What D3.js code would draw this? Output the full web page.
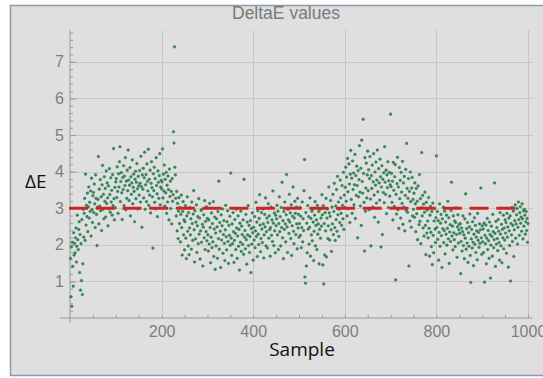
<!DOCTYPE html>
<html>
<head>
<meta charset="utf-8">
<script src="https://cdn.jsdelivr.net/npm/d3@7/dist/d3.min.js"></script>
<style>
  html, body { margin: 0; padding: 0; background: #ffffff; }
  svg { display: block; }
</style>
</head>
<body>
<svg id="chart" width="543" height="378"></svg>
<script>
// DeltaE per sample (samples 1..1000, fifty per row)
const deltaE = [
  1.63,0.58,1.94,0.32,2.07,1.41,0.87,2.33,1.72,2.04, 1.78,2.19,2.46,1.53,1.96,2.81,2.14,1.87,2.42,2.63, 1.24,2.28,0.76,2.03,1.02,2.69,0.64,1.48,2.97,2.21, 2.86,3.27,2.12,3.93,2.54,3.08,2.77,3.41,2.36,3.04, 3.58,2.73,3.16,2.91,3.47,2.24,3.82,2.96,2.61,3.34,
  3.43,2.88,3.66,3.12,2.47,3.91,3.27,2.83,1.98,3.03, 3.24,4.41,2.57,3.52,3.06,3.78,2.93,3.31,2.39,3.64, 4.17,2.97,3.38,2.71,3.86,3.19,3.54,2.76,4.02,3.13, 3.69,3.28,2.52,3.61,2.98,4.08,3.37,2.89,3.83,3.17, 3.49,2.81,3.92,3.07,4.63,3.26,2.68,3.57,3.01,3.72,
  3.81,3.29,4.13,3.46,2.86,3.94,3.58,4.27,4.68,3.18, 3.73,3.97,3.42,2.69,3.84,3.51,4.16,3.07,3.88,3.62, 4.38,2.96,3.74,3.27,4.04,3.48,4.59,3.77,3.21,3.63, 4.11,2.79,3.86,3.38,3.69,4.32,3.12,3.57,3.93,3.46, 2.63,3.79,4.01,3.26,3.71,4.22,3.53,2.98,3.87,3.61,
  3.36,4.03,3.68,3.17,4.42,3.59,2.48,3.91,3.52,4.09, 3.28,3.83,4.53,2.97,3.64,3.92,3.18,4.21,3.73,3.47, 4.61,3.08,3.79,3.36,4.04,2.87,3.68,4.27,3.56,3.31, 1.91,3.94,3.48,4.12,3.16,3.81,2.98,4.38,3.62,3.39, 2.77,4.02,3.71,3.27,3.89,4.49,3.09,3.58,3.76,3.53,
  3.72,4.62,3.28,3.93,3.47,4.18,3.06,3.79,3.42,3.98, 2.86,3.63,3.17,3.88,3.51,2.68,4.07,3.32,3.74,2.99, 3.46,2.57,3.81,3.19,3.37,5.09,4.78,7.41,4.12,3.91, 3.27,2.79,3.46,2.38,3.13,2.17,2.92,3.29,2.58,3.02, 2.08,2.83,3.36,2.47,1.72,2.91,3.18,2.27,2.68,1.86,
  2.63,3.07,2.18,1.62,2.79,3.31,2.37,1.97,2.88,1.73, 2.46,3.02,2.27,2.71,1.88,3.17,2.58,2.12,2.84,3.48, 2.41,1.53,2.93,2.16,2.62,3.09,1.79,2.52,2.77,2.03, 3.26,2.29,2.73,1.61,2.38,2.94,2.07,2.97,2.56,1.42, 2.48,2.82,2.19,3.21,1.87,2.64,2.36,3.04,2.11,2.72,
  2.27,1.83,2.68,2.02,3.13,2.47,1.51,2.21,2.87,1.92, 2.58,2.08,3.18,1.68,2.43,2.76,1.33,2.32,1.97,2.71, 2.49,1.63,2.91,2.17,3.74,1.88,2.61,2.37,1.38,2.82, 2.13,2.52,2.98,1.77,2.28,2.66,2.04,1.57,2.41,3.08, 2.22,1.86,2.63,2.93,2.09,1.49,2.53,2.26,2.78,1.99,
  3.96,2.18,1.71,2.57,2.03,2.88,2.36,1.52,2.12,2.69, 2.31,1.87,2.97,2.46,1.63,2.24,2.79,1.96,2.42,1.31, 2.59,2.07,2.92,1.82,2.51,2.28,2.01,2.68,1.74,3.79, 2.21,2.39,1.89,2.83,2.14,1.47,2.62,2.27,3.07,1.98, 2.53,1.79,2.23,2.66,1.24,2.44,2.02,2.87,2.33,1.58,
  2.48,2.13,2.77,1.92,2.38,3.16,2.23,2.62,1.68,2.93, 2.29,2.01,2.72,3.37,2.54,1.81,2.17,2.88,2.43,2.06, 2.98,2.57,1.64,2.27,2.83,2.49,3.28,1.97,2.36,2.73, 1.91,2.61,3.12,2.18,2.79,2.42,1.69,2.47,3.03,2.26, 2.68,2.09,3.47,2.59,1.98,2.87,2.38,1.78,2.81,2.52,
  2.71,3.08,2.27,2.92,1.87,2.58,3.31,2.36,2.77,1.97, 3.02,2.47,3.71,2.19,2.66,1.62,2.91,2.42,3.17,2.57, 2.08,2.82,3.92,2.49,1.79,2.97,2.68,2.31,3.38,2.62, 2.87,2.17,3.09,1.71,2.52,2.78,3.58,2.37,2.03,2.73, 3.19,2.86,2.28,3.03,2.57,1.89,3.27,2.46,2.83,2.21,
  2.58,3.02,2.26,2.78,1.92,2.47,3.17,2.08,2.71,2.39, 3.48,4.33,1.12,0.95,2.88,1.42,2.59,1.78,3.07,2.43, 2.77,2.02,2.48,3.28,1.69,2.72,2.27,2.92,2.11,2.98, 2.62,1.57,2.37,2.81,3.18,1.97,2.53,2.68,1.87,3.08, 2.29,2.57,2.91,1.48,2.42,2.97,2.18,2.73,2.51,3.37,
  2.82,1.45,3.07,0.93,2.58,1.72,2.88,2.38,3.27,1.67, 2.73,2.98,2.17,2.52,3.58,2.87,2.13,2.78,3.21,2.41, 1.82,3.03,2.57,3.38,2.28,2.91,3.68,2.47,2.12,3.06, 2.69,3.51,2.37,3.87,2.82,3.17,2.23,2.97,2.61,3.77, 3.28,2.86,2.53,3.62,3.08,2.71,3.98,2.42,3.36,3.02,
  3.57,4.12,3.19,3.85,2.79,4.36,3.45,2.99,4.21,3.66, 2.61,3.93,4.58,3.24,3.82,2.86,4.29,3.51,3.96,3.09, 3.64,4.47,2.72,3.89,3.35,4.15,3.62,2.19,4.03,3.31, 3.78,4.71,3.44,3.06,4.09,2.53,4.86,3.73,3.41,5.43, 3.95,3.16,1.83,4.38,2.92,3.55,4.23,3.28,3.91,4.56,
  3.48,4.05,2.96,3.81,4.41,3.25,1.97,3.89,3.54,4.18, 3.03,3.72,4.49,3.36,2.75,3.99,3.63,4.26,3.14,3.77, 4.59,3.45,2.62,4.08,3.69,3.22,4.34,3.86,1.94,3.58, 4.16,2.28,3.79,3.43,3.97,3.15,4.68,3.71,3.38,4.04, 2.85,3.91,3.56,4.27,3.02,3.75,3.98,3.33,3.64,5.57,
  3.59,3.95,3.16,3.74,2.68,4.25,3.49,3.05,3.86,4.19, 1.04,3.38,2.84,3.67,4.39,2.96,3.58,2.45,4.11,3.26, 3.76,2.73,3.98,3.44,3.13,4.28,2.56,3.69,3.03,3.87, 2.38,3.35,4.06,2.94,4.77,3.54,2.89,3.27,3.81,1.42, 3.46,2.65,3.99,3.18,2.48,3.55,3.84,2.79,3.24,2.97,
  3.41,2.75,3.69,3.12,2.36,3.54,2.85,3.19,2.14,3.61, 2.99,2.55,3.92,2.64,3.26,2.03,3.01,4.52,2.79,3.35, 2.46,3.11,2.24,2.89,3.44,2.53,1.73,3.16,2.32,2.95, 2.65,2.19,3.29,2.45,1.69,2.81,3.05,2.34,1.95,2.91, 1.46,3.14,2.26,1.78,2.65,2.99,2.43,2.06,2.74,4.43,
  2.47,2.91,2.15,2.66,1.58,2.34,3.12,1.96,2.59,2.83, 2.25,1.38,2.71,2.44,3.03,2.06,2.39,2.92,1.75,2.62, 2.29,2.81,1.99,2.45,3.19,2.16,2.74,1.49,2.35,2.55, 2.09,2.94,3.71,2.24,2.51,1.86,2.79,2.33,2.14,2.65, 1.95,2.61,3.01,2.28,1.66,2.49,2.82,2.05,2.41,2.56,
  2.31,2.58,1.21,2.09,2.46,1.83,2.36,2.79,1.98,2.27, 1.62,2.71,2.18,3.39,1.88,2.44,2.05,2.61,1.52,2.33, 1.96,2.49,2.84,1.71,0.97,2.16,2.42,1.91,2.63,2.07, 1.43,2.29,2.74,2.01,2.53,1.79,2.21,2.38,1.59,2.86, 2.12,2.34,1.93,2.57,2.04,2.41,3.55,2.19,1.74,2.52,
  2.08,2.43,1.79,2.59,0.98,2.26,2.03,2.54,1.48,2.18, 2.72,1.87,2.39,2.11,1.63,2.62,2.28,1.09,1.99,2.51, 2.23,1.69,2.83,2.36,1.92,2.14,3.69,2.31,1.41,2.64, 2.02,2.47,2.17,1.84,2.69,2.37,2.06,1.58,2.88,2.29, 1.97,2.56,1.51,2.42,2.19,2.81,1.89,2.46,2.13,2.68,
  2.32,2.61,1.77,2.86,2.21,2.49,1.39,2.73,2.38,1.98, 2.79,1.01,2.58,2.27,3.02,2.09,2.53,2.92,1.68,2.41, 2.66,3.09,2.18,2.57,2.82,2.99,2.02,2.48,3.17,2.69, 2.26,2.88,3.04,2.59,2.76,2.37,3.12,2.71,2.16,2.93, 2.51,2.97,2.81,2.29,2.63,2.91,2.39,2.72,2.07,2.58
];

const xTicks = [200, 400, 600, 800, 1000];
const yTicks = [1, 2, 3, 4, 5, 6, 7];
const threshold = 3;          // ΔE tolerance line
const thresholdSpan = [-2, 976];

const svg = d3.select("#chart");

// outer panel
svg.append("rect")
  .attr("x", 10.5).attr("y", 5.5)
  .attr("width", 560).attr("height", 370)
  .attr("fill", "#dfdfdf")
  .attr("stroke", "#8b9ab0").attr("stroke-width", 1.5);

const x = d3.scaleLinear().domain([0, 1010]).range([70, 532.6]);
const y = d3.scaleLinear().domain([0, 7.87]).range([318, 30]);

// grid
const grid = svg.append("g").attr("stroke", "#c6c6c6").attr("stroke-width", 1);
grid.selectAll("line.v").data(xTicks).join("line")
  .attr("x1", d => Math.round(x(d)) + 0.5).attr("x2", d => Math.round(x(d)) + 0.5)
  .attr("y1", y(7.87)).attr("y2", y(0));
grid.selectAll("line.h").data(yTicks).join("line")
  .attr("x1", x(0)).attr("x2", x(1010))
  .attr("y1", d => Math.round(y(d)) + 0.5).attr("y2", d => Math.round(y(d)) + 0.5);

// axes
const axisColor = "#9a9a9a";
const xAxis = svg.append("g").attr("transform", `translate(0,${y(0)})`)
  .call(d3.axisBottom(x).tickValues(d3.range(50, 1001, 50)).tickSize(-3).tickFormat(""));
xAxis.select(".domain").attr("d", `M60,0H${x(1010)}`);
svg.append("g").attr("transform", `translate(0,${y(0)})`)
  .call(d3.axisBottom(x).tickValues(xTicks).tickSize(0).tickPadding(8).tickFormat(d3.format("d")))
  .call(g => g.select(".domain").remove());

const yAxis = svg.append("g").attr("transform", `translate(${x(0)},0)`)
  .call(d3.axisLeft(y).tickValues(d3.range(0.2, 7.81, 0.2)).tickSize(-3).tickFormat(""));
yAxis.select(".domain").attr("d", `M0,${y(7.87)}V${y(0) + 5}`);
svg.append("g").attr("transform", `translate(${x(0)},0)`)
  .call(d3.axisLeft(y).tickValues(yTicks).tickSize(-6).tickPadding(6).tickFormat(d3.format("d")))
  .call(g => g.select(".domain").remove());

svg.selectAll(".tick line, .domain").attr("stroke", axisColor);
svg.selectAll(".tick text")
  .attr("fill", "#7d7d7d")
  .attr("font-family", "'Liberation Sans', Arial, sans-serif")
  .attr("font-size", 16);

// samples
svg.append("g").selectAll("circle").data(deltaE).join("circle")
  .attr("cx", (d, i) => x(i + 1))
  .attr("cy", d => y(d))
  .attr("r", 1.35)
  .attr("fill", "#2f8c58")
  .attr("stroke", "#2a6f4a").attr("stroke-width", 0.4);

// threshold line
svg.append("line")
  .attr("x1", x(thresholdSpan[0])).attr("x2", x(thresholdSpan[1]))
  .attr("y1", y(threshold)).attr("y2", y(threshold))
  .attr("stroke", "#d02424").attr("stroke-width", 3)
  .attr("stroke-dasharray", "19,7.7");

// labels
svg.append("text")
  .attr("x", 286).attr("y", 18.5)
  .attr("text-anchor", "middle")
  .attr("fill", "#7a7a7a")
  .attr("font-family", "'Liberation Sans', Arial, sans-serif")
  .attr("font-size", 17.5)
  .text("DeltaE values");

svg.append("text")
  .attr("x", 25).attr("y", 188)
  .attr("fill", "#111")
  .attr("font-family", "'Open Sans', sans-serif")
  .attr("font-size", 19)
  .text("ΔE");

svg.append("text")
  .attr("x", 302).attr("y", 356)
  .attr("text-anchor", "middle")
  .attr("fill", "#111")
  .attr("font-family", "'Open Sans', sans-serif")
  .attr("font-size", 19)
  .text("Sample");
</script>
</body>
</html>
